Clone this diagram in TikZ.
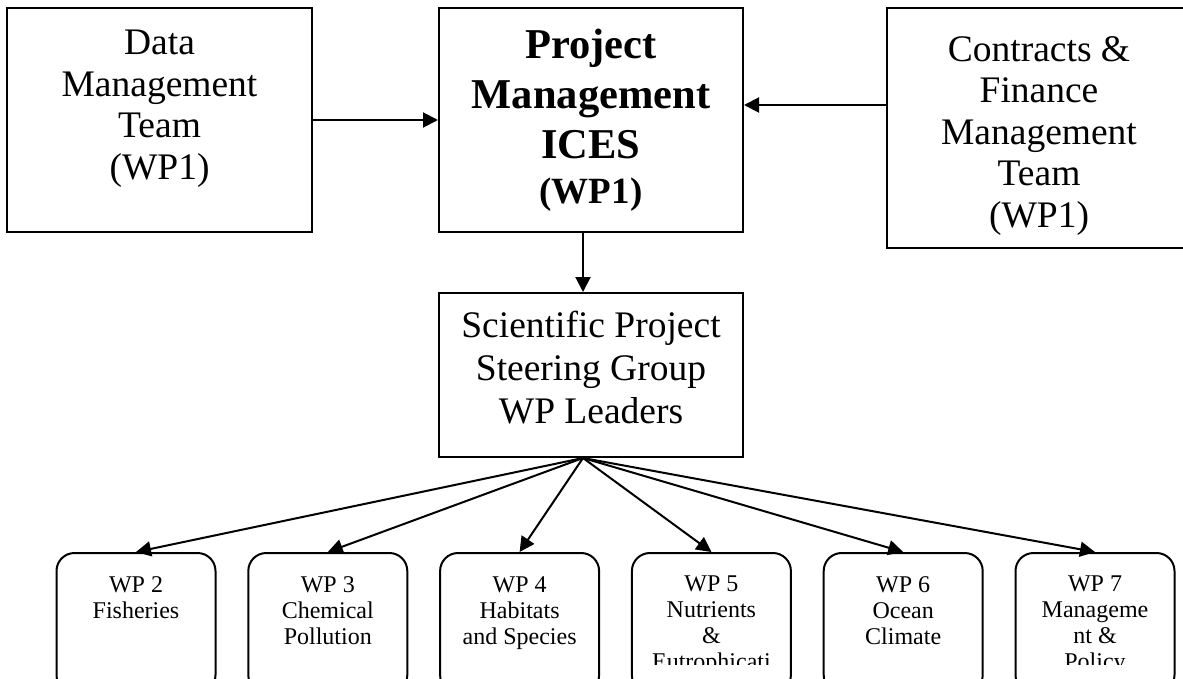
\documentclass[tikz,border=0pt]{standalone}
\usepackage{fontspec}
\setmainfont{Liberation Serif}
\usetikzlibrary{arrows.meta,positioning}

\begin{document}
\begin{tikzpicture}[
  x=1pt, y=-1pt,
  node distance=30.8pt,
  box/.style={draw, line width=2pt, minimum width=304pt, inner sep=0pt},
  wpbox/.style={draw, line width=2pt, rounded corners=18pt, minimum width=159pt,
                minimum height=140pt, inner sep=0pt},
  txt/.style={align=center, inner sep=0pt, font=\fontsize{37.5}{41.5}\selectfont},
  wptxt/.style={align=center, inner sep=0pt, font=\fontsize{24}{26}\selectfont},
  arrow/.style={-{Triangle[length=15pt, width=15pt]}, line width=2pt}
]
\useasboundingbox (0,0) rectangle (1183,679);

% top row
\node[box, minimum width=305pt, minimum height=224pt] (data) at (159.5,120) {};
\node[box, minimum height=224pt, right=125pt of data] (pm) {};
\node[box, minimum height=240pt, right=142pt of pm, yshift=-8pt] (cf) {};
\node[box, minimum height=164pt, below=59pt of pm] (sci) {};

\node[txt, below=23pt of data.north] (datatext) {Data\\Management\\Team\\(WP1)};
\node[txt, font=\bfseries\fontsize{42.5}{50}\selectfont, below=22pt of pm.north] (pmtext)
  {Project\\Management\\ICES\\[-5pt]{\fontsize{37}{41.5}\selectfont (WP1)}};
\node[txt, below=29pt of cf.north] (cftext) {Contracts \&\\Finance\\Management\\Team\\(WP1)};
\node[txt, font=\fontsize{37.5}{43}\selectfont, below=19pt of sci.north] (scitext)
  {Scientific Project\\Steering Group\\WP Leaders};

% work packages
\node[wpbox] (wp2) at (136,623) {};
\node[wpbox, right=of wp2] (wp3) {};
\node[wpbox, right=of wp3] (wp4) {};
\node[wpbox, right=of wp4] (wp5) {};
\node[wpbox, right=of wp5] (wp6) {};
\node[wpbox, right=of wp6] (wp7) {};

\begin{scope}
\clip (0,0) rectangle (1183,664);
\node[wptxt, below=24pt of wp2.north] (wp2text) {WP 2\\Fisheries};
\node[wptxt, below=24pt of wp3.north] (wp3text) {WP 3\\Chemical\\Pollution};
\node[wptxt, below=24pt of wp4.north] (wp4text) {WP 4\\Habitats\\and Species};
\node[wptxt, below=24pt of wp5.north] (wp5text) {WP 5\\Nutrients\\\&\\Eutrophicati};
\node[wptxt, below=24pt of wp6.north] (wp6text) {WP 6\\Ocean\\Climate};
\node[wptxt, below=24pt of wp7.north] (wp7text) {WP 7\\Manageme\\nt \&\\Policy};
\end{scope}

\draw[arrow] (data) -- (pm);
\draw[arrow] ([yshift=23pt]cf.west) -- ([yshift=23pt]cf.west -| pm.east);
\draw[arrow] ([xshift=-8pt]pm.south) -- ([xshift=-8pt]sci.north);
\coordinate (hub) at ([xshift=-8pt]sci.south);
\draw[arrow] (hub) -- (wp2.north);
\draw[arrow] (hub) -- (wp3.north);
\draw[arrow] (hub) -- (wp4.north);
\draw[arrow] (hub) -- (wp5.north);
\draw[arrow] (hub) -- (wp6.north);
\draw[arrow] (hub) -- (wp7.north);
\end{tikzpicture}
\end{document}
